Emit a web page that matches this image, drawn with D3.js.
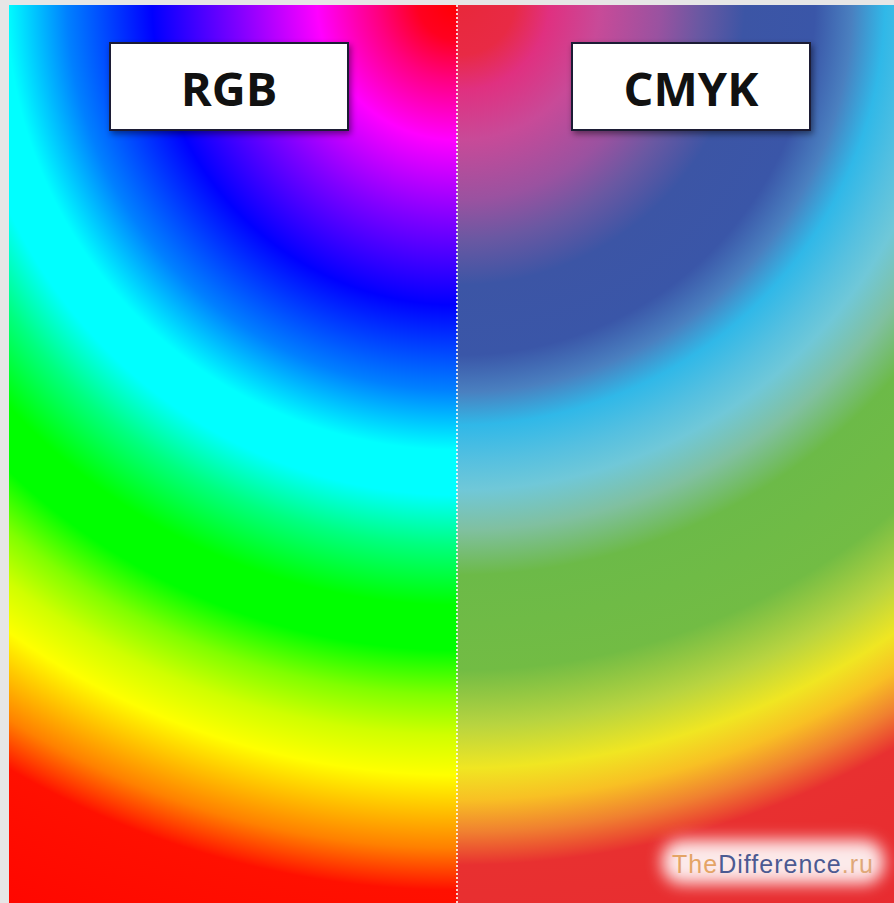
<!DOCTYPE html>
<html>
<head>
<meta charset="utf-8">
<script src="https://cdn.jsdelivr.net/npm/d3@7"></script>
<style>
  body { margin: 0; background: #e6e6e6; }
  svg { display: block; }
</style>
</head>
<body>
<div id="main"></div>
<script>

// panels and their labels
var panels = ["RGB", "CMYK"];

// ring radii (px from the top of the divider) and colours of each panel
var rgbRadii  = [0, 40, 80, 140, 220, 305, 390, 450, 495, 545, 605, 650, 695, 735,
                 775, 848, 890, 1100];
var rgbColors = ["#ff0000", "#ff0020", "#ff0080", "#ff00ff", "#8000ff", "#0000ff",
                 "#0080ff", "#00ffff", "#00ffff", "#00ff80", "#00ff00", "#00ff00",
                 "#80ff00", "#d0ff00", "#ffff00", "#ff8000", "#ff1000", "#ff0000"];

var cmykRadii  = [0, 55, 90, 140, 200, 240, 285, 355, 392, 425, 460, 490, 530, 575,
                  670, 725, 768, 800, 832, 865, 1100];
var cmykColors = ["#e8283a", "#e82a45", "#e03080", "#c84a98", "#9a52a0", "#6a58a2",
                  "#3c55a5", "#3a56a8", "#4a80c0", "#30b8e8", "#55c0e0", "#70c8d8",
                  "#80c0a0", "#6cba48", "#72bc44", "#b8d440", "#f0e622", "#f8c024",
                  "#f08030", "#e83030", "#e82830"];

var watermark = [["The", "#e4a466"], ["Difference", "#4c5a92"], [".ru", "#e0a878"]];

//Width and height
var w = 894;
var h = 903;
var padLeft = 9, padTop = 5, mid = 457;
var maxR = 1100;

window.onload = function () {

  var svg = d3.select("#main").append("svg")
      .attr("width", w)
      .attr("height", h);

  var defs = svg.append("defs");

  // radial gradients built from the stop arrays, centred on the top of the divider
  function gradient(id, radii, colors, cx) {
    var offset = d3.scaleLinear().domain([0, maxR]).range([0, 1]);
    var g = defs.append("radialGradient")
        .attr("id", id)
        .attr("gradientUnits", "userSpaceOnUse")
        .attr("cx", cx).attr("cy", 0)
        .attr("fx", cx).attr("fy", 0)
        .attr("r", maxR);
    g.selectAll("stop")
        .data(radii)
        .enter()
        .append("stop")
        .attr("offset", function(d) { return offset(d); })
        .attr("stop-color", function(d, i) { return colors[i]; });
  }
  gradient("g-rgb", rgbRadii, rgbColors, mid);
  gradient("g-cmyk", cmykRadii, cmykColors, mid + 3);

  var shadow = defs.append("filter").attr("id", "shadow")
      .attr("x", "-10%").attr("y", "-10%").attr("width", "130%").attr("height", "140%");
  shadow.append("feDropShadow")
      .attr("dx", 2).attr("dy", 3).attr("stdDeviation", 3)
      .attr("flood-color", "#000").attr("flood-opacity", 0.45);

  var glow = defs.append("filter").attr("id", "glow")
      .attr("x", "-30%").attr("y", "-80%").attr("width", "160%").attr("height", "260%");
  glow.append("feGaussianBlur").attr("stdDeviation", 8);

  // two halves
  svg.append("rect")
      .attr("x", padLeft).attr("y", padTop)
      .attr("width", mid - padLeft).attr("height", h - padTop)
      .attr("fill", "url(#g-rgb)");
  svg.append("rect")
      .attr("x", mid).attr("y", padTop)
      .attr("width", w - mid).attr("height", h - padTop)
      .attr("fill", "url(#g-cmyk)");

  // dotted divider
  svg.append("line")
      .attr("x1", mid).attr("x2", mid)
      .attr("y1", padTop).attr("y2", h)
      .attr("stroke", "#fff")
      .attr("stroke-width", 2)
      .attr("stroke-opacity", 0.8)
      .attr("stroke-dasharray", "2,2");

  // labels
  var boxX = d3.scaleOrdinal().domain(panels).range([110, 572]);
  var labels = svg.selectAll("g.label")
      .data(panels)
      .enter()
      .append("g")
      .attr("class", "label");

  labels.append("rect")
      .attr("x", function(d) { return boxX(d); })
      .attr("y", 43)
      .attr("width", 238)
      .attr("height", 87)
      .attr("fill", "#fff")
      .attr("stroke", "#1c1c34")
      .attr("stroke-width", 2)
      .attr("filter", "url(#shadow)");

  labels.append("text")
      .attr("x", function(d) { return boxX(d) + 119; })
      .attr("y", 106)
      .attr("text-anchor", "middle")
      .attr("font-family", "'Open Sans', 'Noto Sans', sans-serif")
      .attr("font-weight", "bold")
      .attr("font-size", 47)
      .attr("fill", "#111")
      .text(function(d) { return d; });

  // watermark
  svg.append("rect")
      .attr("x", 662).attr("y", 840)
      .attr("width", 222).attr("height", 44)
      .attr("rx", 20)
      .attr("fill", "#fff")
      .attr("opacity", 0.9)
      .attr("filter", "url(#glow)");

  var wm = svg.append("text")
      .attr("x", 672).attr("y", 873)
      .attr("font-family", "'Liberation Sans', Arial, sans-serif")
      .attr("font-size", 25)
      .attr("textLength", 201)
      .attr("lengthAdjust", "spacing");
  wm.selectAll("tspan")
      .data(watermark)
      .enter()
      .append("tspan")
      .attr("fill", function(d) { return d[1]; })
      .text(function(d) { return d[0]; });
}

</script>
</body>
</html>
